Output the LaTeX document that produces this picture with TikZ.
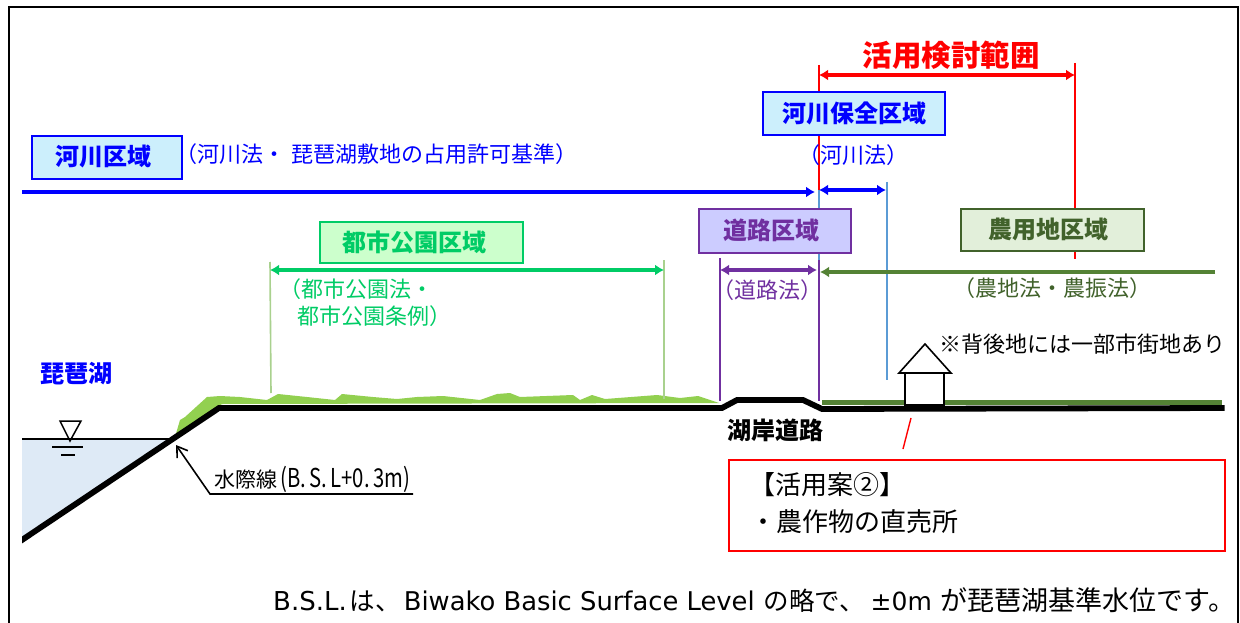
\documentclass[tikz,border=0pt]{standalone}
\usepackage{fontspec}
\usetikzlibrary{arrows.meta}
\setmainfont{Noto Sans CJK JP}
\newfontfamily\latfont{DejaVu Sans}
\newcommand{\fs}[1]{\fontsize{#1}{#1}\selectfont}
% box text: raised by #1, moved left by half of #2
\newcommand{\boxt}[3]{\raisebox{#1}{#3\hspace*{#2}}}
\definecolor{riverblue}{HTML}{0000FF}
\definecolor{paleblue}{HTML}{5B9BD5}
\definecolor{parkgreen}{HTML}{00CC66}
\definecolor{pale}{HTML}{A9D18E}
\definecolor{grass}{HTML}{92D050}
\definecolor{roadp}{HTML}{7030A0}
\definecolor{farm}{HTML}{548235}
\definecolor{farmd}{HTML}{41622B}
\definecolor{farmf}{HTML}{E2EFDA}
\definecolor{water}{HTML}{DEEAF6}
\tikzset{
  zonebox/.style={draw,line width=2.2pt,inner sep=0pt,anchor=north west,font=\fs{24}\bfseries},
  lab/.style={inner sep=0pt,anchor=center},
  dbl/.style={line width=3.6pt,{Latex[length=9pt,width=11pt]}-{Latex[length=9pt,width=11pt]}},
  sgl/.style={line width=3.6pt,-{Latex[length=9pt,width=11pt]}},
  vline/.style={line width=1.6pt},
}
\begin{document}
\begin{tikzpicture}[x=1pt,y=-1pt]
\useasboundingbox (0,0) rectangle (1240,623);
\fill[white] (0,0) rectangle (1240,623);
% frame
\draw[line width=2.6pt] (9,623) -- (9,7) -- (1238,7) -- (1238,623);

% water and ground
\coordinate (wl) at (22,439); \coordinate (wr) at (172,439);
\fill[water] (wl) -- (wr) -- (22,537) -- cycle;
\fill[grass] (175,437) -- (180,420) -- (185,417) -- (207,397) -- (220,396) -- (240,397) -- (267,400) -- (278,394) -- (307,397) -- (335,400) -- (342,394) -- (373,397) -- (397,399) -- (417,397) -- (443,396) -- (480,400) -- (497,394) -- (510,393) -- (520,397) -- (573,395) -- (580,400) -- (592,395) -- (605,399) -- (657,395) -- (680,398) -- (698,396) -- (719,403) -- (222,404) -- cycle;
\draw[line width=1.5pt] (wl) -- (wr);
\begin{scope}
\clip (22,300) rectangle (1224.5,560);
\draw[line width=5.8pt,miter limit=2] (7,550) -- (219,408) -- (722,408) -- (737,400) -- (803,400) -- (822,409) -- (1230,408);
\end{scope}
\fill[farm] (822,400) rectangle (1222,405.2);

% water mark
\draw[line width=1.5pt] (60,421) -- (81,421) -- (70,441) -- cycle;
\draw[line width=1.5pt] (52,447) -- (83,447);
\draw[line width=1.5pt] (61,455) -- (75,455);

% verticals
\coordinate (r1t) at (819,65); \coordinate (r1b) at (819,190);
\coordinate (r2t) at (1075,63); \coordinate (r2b) at (1075,259);
\draw[vline,red] (r1t) -- (r1b);
\draw[vline,red] (r2t) -- (r2b);
\draw[vline,paleblue] (819,190) -- (819,260);
\draw[vline,roadp] (819,260) -- (819,401);
\draw[vline,paleblue] (887,182) -- (887,380);
\draw[vline,roadp] (720,258) -- (720,401);
\draw[vline,pale] (270,262) -- (271,393);
\draw[vline,pale] (664,260) -- (664,399);

% arrows
\draw[dbl,red] (r1t |- 0,75) -- (r2t |- 0,75);
\draw[sgl,riverblue] (22,192) -- (815,192);
\draw[dbl,riverblue] (819,190) -- (886,190);
\draw[dbl,parkgreen] (270,270) -- (664,270);
\draw[dbl,roadp] (720,270) -- (817,270);
\draw[sgl,farm] (1215,272) -- (820,272);

% boxes
\node[zonebox,draw=riverblue,fill=cyan!20,text=riverblue,minimum width=182pt,minimum height=43pt] (hozen) at (762,91) {\boxt{3pt}{0pt}{河川保全区域}};
\node[zonebox,draw=riverblue,fill=cyan!20,text=riverblue,minimum width=150pt,minimum height=43pt] (kasen) at (31,135) {\boxt{5pt}{7pt}{河川区域}};
\node[zonebox,draw=parkgreen,fill=green!20,text=parkgreen,minimum width=203pt,minimum height=41pt] (toshi) at (319,221) {\boxt{2pt}{15pt}{都市公園区域}};
\node[zonebox,draw=roadp,fill=blue!20,text=roadp,minimum width=152pt,minimum height=44pt] (doro) at (698,208) {\boxt{4pt}{7pt}{道路区域}};
\node[zonebox,draw=farmd,fill=farmf,text=farmd,minimum width=183pt,minimum height=42pt] (noyo) at (960,208) {\boxt{4pt}{9pt}{農用地区域}};

% labels
\node[lab,text=red,font=\fs{29.5}\bfseries] (title) at (951,55) {活用検討範囲};
\node[lab,text=riverblue,font=\fs{22}] (t1) at (853,155) {（河川法）};
\node[lab,text=riverblue,font=\fs{22},anchor=west] (t2) at (175,154) {（河川法・\hspace{1pt} 琵琶湖敷地の占用許可基準）};
\node[lab,text=parkgreen,font=\fs{22},anchor=west] (t3) at (279,289) {（都市公園法・};
\node[lab,text=parkgreen,font=\fs{22},anchor=west] (t4) at (297,316) {都市公園条例）};
\node[lab,text=roadp,font=\fs{22}] (t5) at (767,290) {（道路法）};
\node[lab,text=farmd,font=\fs{22}] (t6) at (1052,288) {（農地法・農振法）};
\node[lab,text=riverblue,font=\fs{24}\bfseries] (biwa) at (76,374) {琵琶湖};
\node[lab,font=\fs{24}\bfseries] (road) at (775,430) {湖岸道路};
\node[lab,font=\fs{22},anchor=west] (note) at (939,344) {※背後地には一部市街地あり};

% leader
\coordinate (lt) at (176,445); \coordinate (lm) at (210,494); \coordinate (le) at (413,494);
\draw[line width=1.6pt,{Straight Barb[length=10pt,width=13pt]}-] (lt) -- (lm) -- (le);
\node[lab,font=\fs{21},anchor=west] (mizu) at (214,479) {水際線\hspace{3pt}\scalebox{0.78}[1]{\fs{26}(B.\,S.\,L+0.\,3m)}};

% house
\draw[line width=1.6pt,fill=white] (905,373) rectangle (944,405);
\draw[line width=1.6pt,fill=white] (899,373) -- (925,344) -- (951,373) -- cycle;

% callout
\node[draw=red,line width=1.8pt,inner sep=0pt,anchor=north west,minimum width=496pt,minimum height=91pt] (call) at (728,459) {};
\coordinate (ca) at (911,418); \coordinate (cb) at (903,449);
\draw[red,line width=1.4pt] (ca) -- (cb);
\node[lab,font=\fs{26},anchor=west] (c1) at (749,485) {【活用案②】};
\node[lab,font=\fs{26},anchor=west] (c2) at (750,522) {・農作物の直売所};

% footnote
\node[lab,font=\fs{25.5},anchor=west] (foot) at (273,600) {{\latfont\fs{26}B.S.L.}\hspace{3pt}は、\hspace{3pt}{\latfont\fs{25.8}Biwako Basic Surface Level}\hspace{9pt}の略で、\hspace{6pt}{\latfont\fs{25}±0m}\hspace{9pt}\fs{27}が琵琶湖基準水位です。};
\end{tikzpicture}
\end{document}
